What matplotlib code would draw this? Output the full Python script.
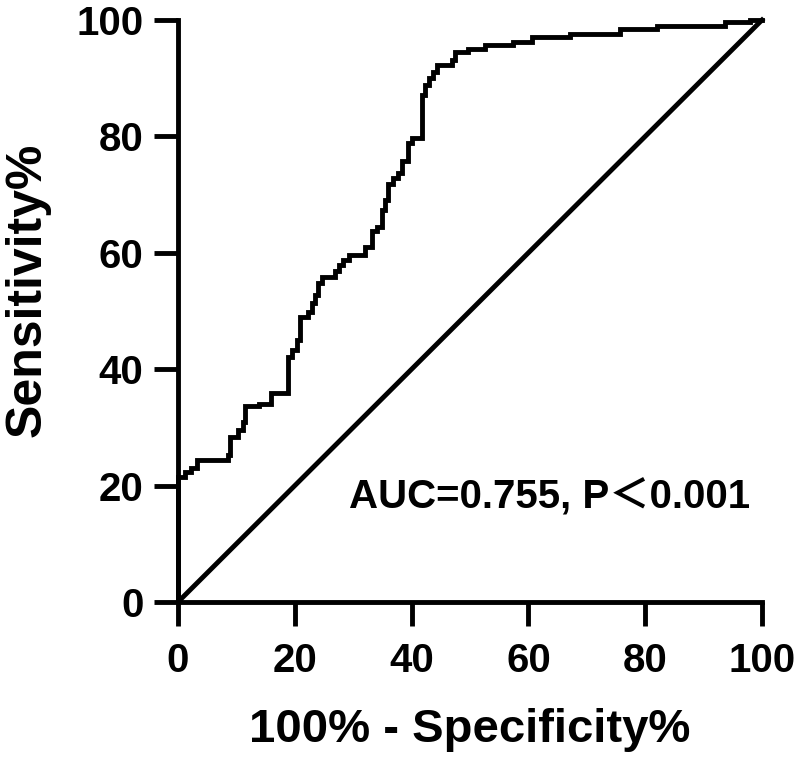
import matplotlib
matplotlib.use("Agg")
import matplotlib.pyplot as plt

# ROC curve corner points (100% - specificity, sensitivity)
fpr = [0, 0, 1.2, 2.3, 3.2, 8.6, 8.9, 10.3, 11.2, 11.5,
       13.8, 16.0, 18.9, 19.5, 20.3, 20.9, 22.3, 22.9, 23.5, 24.0,
       24.6, 26.9, 27.5, 28.3, 29.2, 32.0, 33.2, 34.0, 34.9, 35.4,
       36.0, 36.9, 37.7, 38.3, 39.4, 40.0, 41.7, 42.3, 42.9, 43.7,
       44.3, 46.9, 47.4, 49.7, 52.5, 57.4, 60.6, 67.1, 75.7, 82.0,
       93.7, 97.9, 100]
tpr = [0, 21.5, 22.4, 23.0, 24.4, 25.3, 28.4, 29.6, 31.0, 33.6,
       34.1, 35.9, 42.1, 43.3, 45.0, 49.0, 49.9, 51.3, 52.7, 54.8,
       55.9, 56.8, 57.9, 58.8, 59.6, 61.0, 63.7, 64.5, 67.4, 69.1,
       71.9, 72.8, 73.7, 75.7, 78.8, 79.7, 87.1, 88.8, 90.0, 91.1,
       92.3, 93.1, 94.5, 95.1, 95.7, 96.3, 97.1, 97.6, 98.5, 99.0,
       99.6, 100, 100]
ref_line = [0, 100]
ticks = [0, 20, 40, 60, 80, 100]
auc_text = "AUC=0.755, P\uff1c0.001"

plt.rcParams['font.family'] = ['Liberation Sans', 'Noto Sans CJK SC', 'DejaVu Sans']
plt.rcParams['font.weight'] = 'bold'

fig = plt.figure(figsize=(8, 7.63), dpi=100)
ax = fig.add_axes([0.2225, 0.211, 0.73, 0.7628])

lw = 3.5
ax.plot(fpr, tpr, drawstyle='steps-post', color='black', lw=lw,
        clip_on=False, solid_joinstyle='miter')
ax.plot(ref_line, ref_line, color='black', lw=lw, clip_on=False)

ax.set_xlim(0, 100)
ax.set_ylim(0, 100)
ax.set_xticks(ticks)
ax.set_yticks(ticks)
ax.spines['top'].set_visible(False)
ax.spines['right'].set_visible(False)
for s in ['left', 'bottom']:
    ax.spines[s].set_linewidth(lw)
ax.tick_params(axis='both', length=17, width=lw, labelsize=29)
ax.tick_params(axis='x', pad=12)
ax.tick_params(axis='y', pad=8)
for lab in ax.get_xticklabels() + ax.get_yticklabels():
    lab.set_fontweight('bold')

ax.set_xlabel("100% - Specificity%", fontsize=34, fontweight='bold', labelpad=20)
ax.set_ylabel("Sensitivity%", fontsize=36, fontweight='bold')
ax.yaxis.set_label_coords(-0.218, 0.536)

ax.text(98, 18, auc_text, fontsize=29, fontweight='bold', ha='right', va='center')

fig.savefig("out.png", dpi=100)
